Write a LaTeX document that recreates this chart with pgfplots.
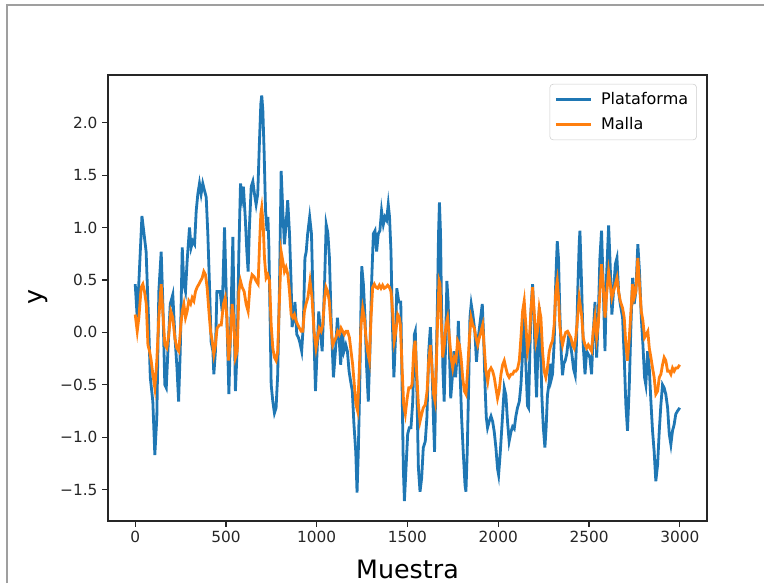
\documentclass[border=0pt]{standalone}
\usepackage{fontspec}
\setmainfont{DejaVu Sans}
\usepackage{pgfplots}
\pgfplotsset{compat=1.18}
\definecolor{mplblue}{HTML}{1F77B4}
\definecolor{mplorange}{HTML}{FF7F0E}
\begin{document}
\begin{tikzpicture}
\useasboundingbox (-81pt,-46.5pt) rectangle (492pt,390.75pt);
\draw[gray!75, line width=0.8pt] (-75.75pt,-46.5pt) -- (-75.75pt,387pt) -- (492pt,387pt);
\begin{axis}[
  at={(0pt,0pt)}, anchor=south west,
  scale only axis, width=449.25pt, height=334.5pt,
  xmin=-150, xmax=3150, ymin=-1.80, ymax=2.455,
  xtick={0,500,1000,1500,2000,2500,3000},
  xticklabels={0,500,1000,1500,2000,2500,3000},
  ytick={-1.5,-1,-0.5,0,0.5,1,1.5,2},
  yticklabels={−1.5,−1.0,−0.5,0.0,0.5,1.0,1.5,2.0},
  xtick pos=bottom, ytick pos=left,
  tick align=outside,
  major tick length=4.4pt,
  tick style={line width=0.9pt, black!85},
  axis line style={line width=0.9pt, black!85},
  ticklabel style={font=\fontsize{11.5}{13}\selectfont, black!85},
  xlabel={Muestra}, ylabel={y},
  xlabel style={at={(axis description cs:0.5,-0.128)}, anchor=base, font=\fontsize{19}{22}\selectfont},
  ylabel style={at={(axis description cs:-0.117,0.502)}, anchor=center, font=\fontsize{19}{22}\selectfont},
  legend style={at={(axis description cs:0.983,0.980)}, anchor=north east,
    draw=black!20, rounded corners=2.5pt, inner sep=3.5pt,
    font=\fontsize{12}{14}\selectfont, row sep=2.3pt, column sep=4pt,
    nodes={inner sep=2.8pt}},
  legend image code/.code={\draw[#1, line width=2.1pt] (0pt,0pt) -- (26pt,0pt);},
  legend cell align=left,
]
\addplot[mplblue, line width=2.1pt] coordinates {
(0,0.46)(11,0.14)(37,1.11)(60,0.77)(73,0.14)(83,-0.43)(97,-0.66)(108,-1.17)(119,-0.81)(130,0.39)(143,0.77)(152,0.29)(163,-0.50)(171,-0.53)(180,-0.18)(193,0.27)(207,0.36)(218,-0.02)(230,-0.34)(239,-0.66)(248,-0.18)(259,0.81)(268,0.46)(277,0.39)(286,0.68)(299,1.0)(308,0.81)(317,0.87)(327,0.84)(336,1.16)(345,1.32)(354,1.42)(363,1.32)(372,1.42)(382,1.35)(391,1.29)(400,0.94)(409,0.46)(418,-0.09)(428,-0.18)(433,-0.40)(442,-0.18)(450,0.39)(464,0.39)
(468,0.39)(479,0.20)(492,1.0)(505,0.14)(516,-0.59)(527,0.14)(538,0.91)(545,0.14)(552,-0.56)(561,-0.18)(571,0.77)(580,1.42)(589,1.29)(596,1.39)(606,1.10)(615,0.77)(622,0.58)(629,1.0)(639,1.39)(648,1.44)(657,1.32)(666,1.22)(675,1.32)(684,1.80)(692,2.18)(697,2.26)(703,2.12)(710,1.73)(718,1.16)(726,0.97)(731,1.10)(736,0.84)(743,0.14)(749,-0.50)(758,-0.66)(767,-0.77)(776,-0.72)(785,-0.40)(795,0.46)(804,1.54)(813,1.16)(822,0.84)(831,1.03)(840,1.26)(850,0.94)(859,0.46)(864,0.05)(873,0.14)(880,0.29)(890,-0.02)(899,-0.05)(906,-0.09)(917,-0.18)(926,0.07)(935,0.71)(942,0.77)(950,0.94)(961,1.10)
(971,0.94)(982,0.14)(993,-0.56)(1002,-0.18)(1011,0.20)(1020,0.01)(1030,-0.18)(1043,0.46)(1052,1.03)(1061,0.95)(1070,0.71)(1079,0.14)(1092,-0.43)(1103,-0.18)(1114,0.14)(1123,-0.05)(1132,-0.31)(1141,0.01)(1150,-0.18)(1160,-0.12)(1169,-0.18)(1178,-0.37)(1187,-0.47)(1196,-0.56)(1205,-0.88)(1215,-1.14)(1222,-1.53)(1229,-1.14)(1237,-0.50)(1244,0.29)(1248,0.63)(1257,0.46)(1266,0.14)(1275,-0.34)(1284,-0.66)(1293,-0.18)(1302,0.46)(1312,0.94)(1321,0.97)(1330,0.77)(1339,0.94)(1348,0.97)(1357,1.16)(1367,1.03)(1376,1.10)(1385,1.07)(1394,1.22)(1401,1.10)(1409,0.77)(1416,0.14)(1425,-0.43)(1434,-0.05)(1441,0.42)(1452,0.29)
(1463,0.29)(1470,-0.50)(1477,-1.29)(1483,-1.61)(1492,-1.29)(1501,-0.97)(1510,-0.91)(1519,-0.91)(1529,-0.66)(1538,-0.02)(1543,0.01)(1551,-0.50)(1560,-1.29)(1569,-1.52)(1578,-1.39)(1587,-1.10)(1598,-1.04)(1607,-0.81)(1617,-0.18)(1626,0.05)(1635,-0.34)(1644,-0.88)(1649,-1.14)(1656,-0.50)(1665,0.29)(1671,0.94)(1676,1.24)(1682,0.94)(1687,0.29)(1695,-0.34)(1702,-0.66)(1709,-0.18)(1717,0.49)(1724,0.29)(1731,-0.18)(1738,-0.63)(1747,-0.43)(1756,-0.18)(1765,-0.43)(1775,-0.18)(1780,0.11)(1789,-0.34)(1798,-0.81)(1807,-1.14)(1817,-1.46)(1822,-1.52)(1829,-1.14)(1837,-0.50)(1844,0.14)(1851,0.27)(1860,0.17)(1871,0.01)(1880,-0.28)(1890,-0.05)(1903,0.14)(1912,0.27)(1919,-0.02)(1927,-0.50)(1934,-0.81)(1941,-0.91)
(1950,-0.85)(1960,-0.80)(1969,-0.85)(1978,-0.95)(1987,-1.10)(1996,-1.30)(2002,-1.36)(2011,-1.15)(2020,-0.90)(2033,-0.53)(2042,-0.60)(2051,-0.85)(2060,-1.04)(2070,-0.95)(2079,-0.90)(2088,-0.92)(2097,-0.80)(2106,-0.72)(2116,-0.66)(2125,-0.5)(2134,-0.2)(2143,0.14)(2152,-0.3)(2161,-0.7)(2167,-0.72)(2174,-0.2)(2180,0.2)(2189,0.46)(2198,0.1)(2204,-0.3)(2211,-0.62)(2218,-0.2)(2226,0.24)(2233,-0.1)(2240,-0.6)(2248,-0.9)(2257,-1.10)(2264,-0.9)(2271,-0.6)(2281,-0.47)(2286,-0.3)(2292,-0.45)(2299,-0.40)(2308,-0.1)(2317,0.5)(2325,0.87)(2332,0.7)(2339,0.2)(2347,-0.2)(2354,-0.41)(2361,-0.3)(2369,-0.27)(2378,-0.2)(2387,-0.05)(2396,-0.1)(2405,-0.2)(2415,-0.35)(2424,-0.41)(2431,-0.1)(2438,0.4)(2446,0.85)
(2450,0.97)(2459,0.46)(2468,-0.12)(2478,-0.40)(2487,-0.18)(2496,-0.21)(2505,-0.24)(2514,-0.40)(2523,-0.02)(2533,0.29)(2542,-0.24)(2551,0.14)(2560,0.71)(2569,0.97)(2578,0.46)(2588,-0.18)(2597,0.55)(2608,1.02)(2617,0.62)(2626,0.17)(2635,0.39)(2645,0.65)(2654,0.71)(2663,0.39)(2672,0.27)(2685,0.14)(2694,-0.24)(2703,-0.69)(2712,-0.94)(2722,-0.50)(2731,0.07)(2740,0.52)(2749,0.27)(2758,0.39)(2769,0.84)(2778,0.58)(2788,0.14)(2797,-0.12)(2806,-0.43)(2813,-0.50)(2823,-0.18)(2832,-0.34)(2841,-0.66)(2850,-0.94)(2859,-1.14)(2868,-1.42)(2878,-1.26)(2887,-0.94)(2896,-0.69)(2905,-0.50)(2914,-0.53)(2923,-0.59)(2933,-0.72)(2942,-0.97)(2951,-1.07)(2960,-0.94)(2969,-0.88)(2978,-0.78)(2988,-0.75)(3000,-0.72)
};
\addlegendentry{Plataforma}
\addplot[mplorange, line width=2.1pt] coordinates {
(0,0.17)(11,0.01)(20,0.14)(33,0.43)(42,0.46)(51,0.39)(61,0.27)(70,-0.12)(79,-0.18)(88,-0.27)(97,-0.40)(108,-0.53)(119,-0.27)(130,0.14)(143,0.46)(152,0.20)(163,-0.12)(174,-0.15)(185,-0.02)(196,0.20)(207,0.14)(218,-0.05)(229,-0.15)(240,-0.18)(250,0.04)(259,0.20)(268,0.27)(277,0.14)(286,0.20)(295,0.30)(305,0.27)(314,0.33)(323,0.30)(332,0.39)(341,0.43)(351,0.46)(360,0.49)(369,0.52)(378,0.58)(387,0.55)(396,0.43)(406,0.20)(415,0.01)(424,-0.08)(433,-0.21)(442,-0.12)(451,0.04)(464,0.07)
(474,0.07)(486,0.27)(496,0.33)(505,0.14)(514,-0.27)(525,-0.05)(534,0.27)(543,0.14)(552,-0.24)(562,-0.18)(571,0.39)(580,0.49)(589,0.43)(600,0.39)(611,0.27)(622,0.20)(633,0.46)(644,0.55)(655,0.53)(666,0.49)(677,0.46)(685,0.84)(692,1.13)(697,1.19)(705,1.03)(712,0.71)(721,0.52)(730,0.55)(740,0.49)(749,0.07)(758,-0.15)(767,-0.24)(776,-0.27)(785,-0.18)(795,0.33)(804,0.77)(813,0.68)(822,0.58)(831,0.62)(841,0.55)(850,0.39)(859,0.17)(868,0.14)(877,0.17)(886,0.11)(896,0.07)(905,0.04)(914,0.01)(923,0.01)(932,0.20)(941,0.27)(951,0.33)(963,0.49)
(974,0.33)(985,0.01)(996,-0.15)(1005,-0.05)(1014,0.04)(1024,0.01)(1033,0.07)(1042,0.30)(1051,0.43)(1060,0.39)(1069,0.30)(1079,0.04)(1088,-0.12)(1097,-0.08)(1106,-0.05)(1115,0.01)(1124,-0.02)(1134,0.04)(1143,0.01)(1152,-0.02)(1161,0.01)(1170,0.01)(1180,-0.05)(1189,-0.18)(1198,-0.31)(1207,-0.50)(1216,-0.69)(1225,-0.75)(1235,-0.34)(1244,0.07)(1253,0.23)(1262,0.14)(1271,-0.05)(1280,-0.18)(1290,-0.27)(1299,0.14)(1308,0.43)(1317,0.46)(1326,0.43)(1336,0.42)(1345,0.45)(1354,0.42)(1363,0.45)(1372,0.42)(1381,0.43)(1391,0.45)(1400,0.43)(1409,0.39)(1418,0.20)(1427,-0.08)(1436,0.01)(1446,0.17)(1455,0.14)
(1461,0.07)(1470,-0.34)(1479,-0.69)(1488,-0.78)(1498,-0.63)(1507,-0.53)(1516,-0.53)(1525,-0.50)(1534,-0.18)(1542,-0.08)(1551,-0.40)(1560,-0.69)(1569,-0.85)(1578,-0.78)(1587,-0.72)(1598,-0.69)(1608,-0.56)(1617,-0.27)(1626,-0.12)(1635,-0.34)(1644,-0.59)(1652,-0.66)(1659,-0.31)(1666,0.14)(1674,0.49)(1679,0.46)(1685,0.14)(1694,-0.24)(1703,-0.12)(1712,0.07)(1721,0.14)(1731,-0.05)(1740,-0.24)(1749,-0.34)(1758,-0.24)(1767,-0.27)(1776,-0.08)(1786,-0.12)(1795,-0.24)(1804,-0.43)(1813,-0.56)(1822,-0.59)(1832,-0.34)(1841,-0.05)(1850,0.14)(1859,0.07)(1868,0.04)(1877,-0.05)(1887,-0.12)(1896,-0.05)(1905,0.01)(1914,0.07)(1923,-0.15)(1932,-0.37)(1942,-0.47)
(1950,-0.37)(1960,-0.34)(1969,-0.37)(1978,-0.43)(1987,-0.53)(1996,-0.63)(2005,-0.56)(2015,-0.40)(2024,-0.31)(2033,-0.27)(2042,-0.34)(2051,-0.40)(2060,-0.43)(2070,-0.40)(2079,-0.40)(2088,-0.37)(2097,-0.37)(2106,-0.35)(2116,-0.27)(2125,-0.05)(2134,0.20)(2143,0.30)(2152,0.07)(2161,-0.18)(2171,-0.08)(2180,0.20)(2189,0.43)(2198,0.20)(2207,-0.08)(2216,0.01)(2226,0.23)(2235,0.14)(2244,-0.18)(2253,-0.37)(2262,-0.43)(2271,-0.34)(2281,-0.18)(2290,-0.12)(2299,-0.08)(2308,0.07)(2317,0.39)(2325,0.49)(2332,0.33)(2339,0.07)(2347,-0.05)(2354,-0.12)(2363,-0.05)(2372,0.00)(2382,0.01)(2391,-0.02)(2400,-0.05)(2409,-0.12)(2418,-0.15)(2427,-0.05)(2437,0.14)(2446,0.33)
(2459,0.17)(2468,-0.05)(2478,-0.12)(2487,-0.15)(2496,-0.12)(2505,-0.15)(2514,-0.18)(2523,0.01)(2533,0.14)(2542,-0.05)(2551,0.07)(2560,0.39)(2569,0.65)(2578,0.46)(2588,0.14)(2597,0.36)(2608,0.58)(2617,0.46)(2626,0.33)(2635,0.39)(2645,0.46)(2654,0.52)(2663,0.39)(2672,0.30)(2685,0.23)(2694,0.14)(2703,-0.12)(2712,-0.27)(2722,-0.05)(2731,0.20)(2740,0.46)(2749,0.33)(2758,0.39)(2769,0.71)(2778,0.46)(2788,0.20)(2797,0.11)(2806,-0.05)(2815,-0.02)(2824,0.01)(2832,-0.15)(2841,-0.24)(2850,-0.34)(2859,-0.43)(2868,-0.59)(2878,-0.56)(2887,-0.43)(2896,-0.40)(2905,-0.31)(2914,-0.24)(2923,-0.27)(2933,-0.37)(2942,-0.37)(2951,-0.40)(2960,-0.34)(2969,-0.37)(2978,-0.34)(2988,-0.34)(3000,-0.31)
};
\addlegendentry{Malla}
\end{axis}
\end{tikzpicture}
\end{document}
